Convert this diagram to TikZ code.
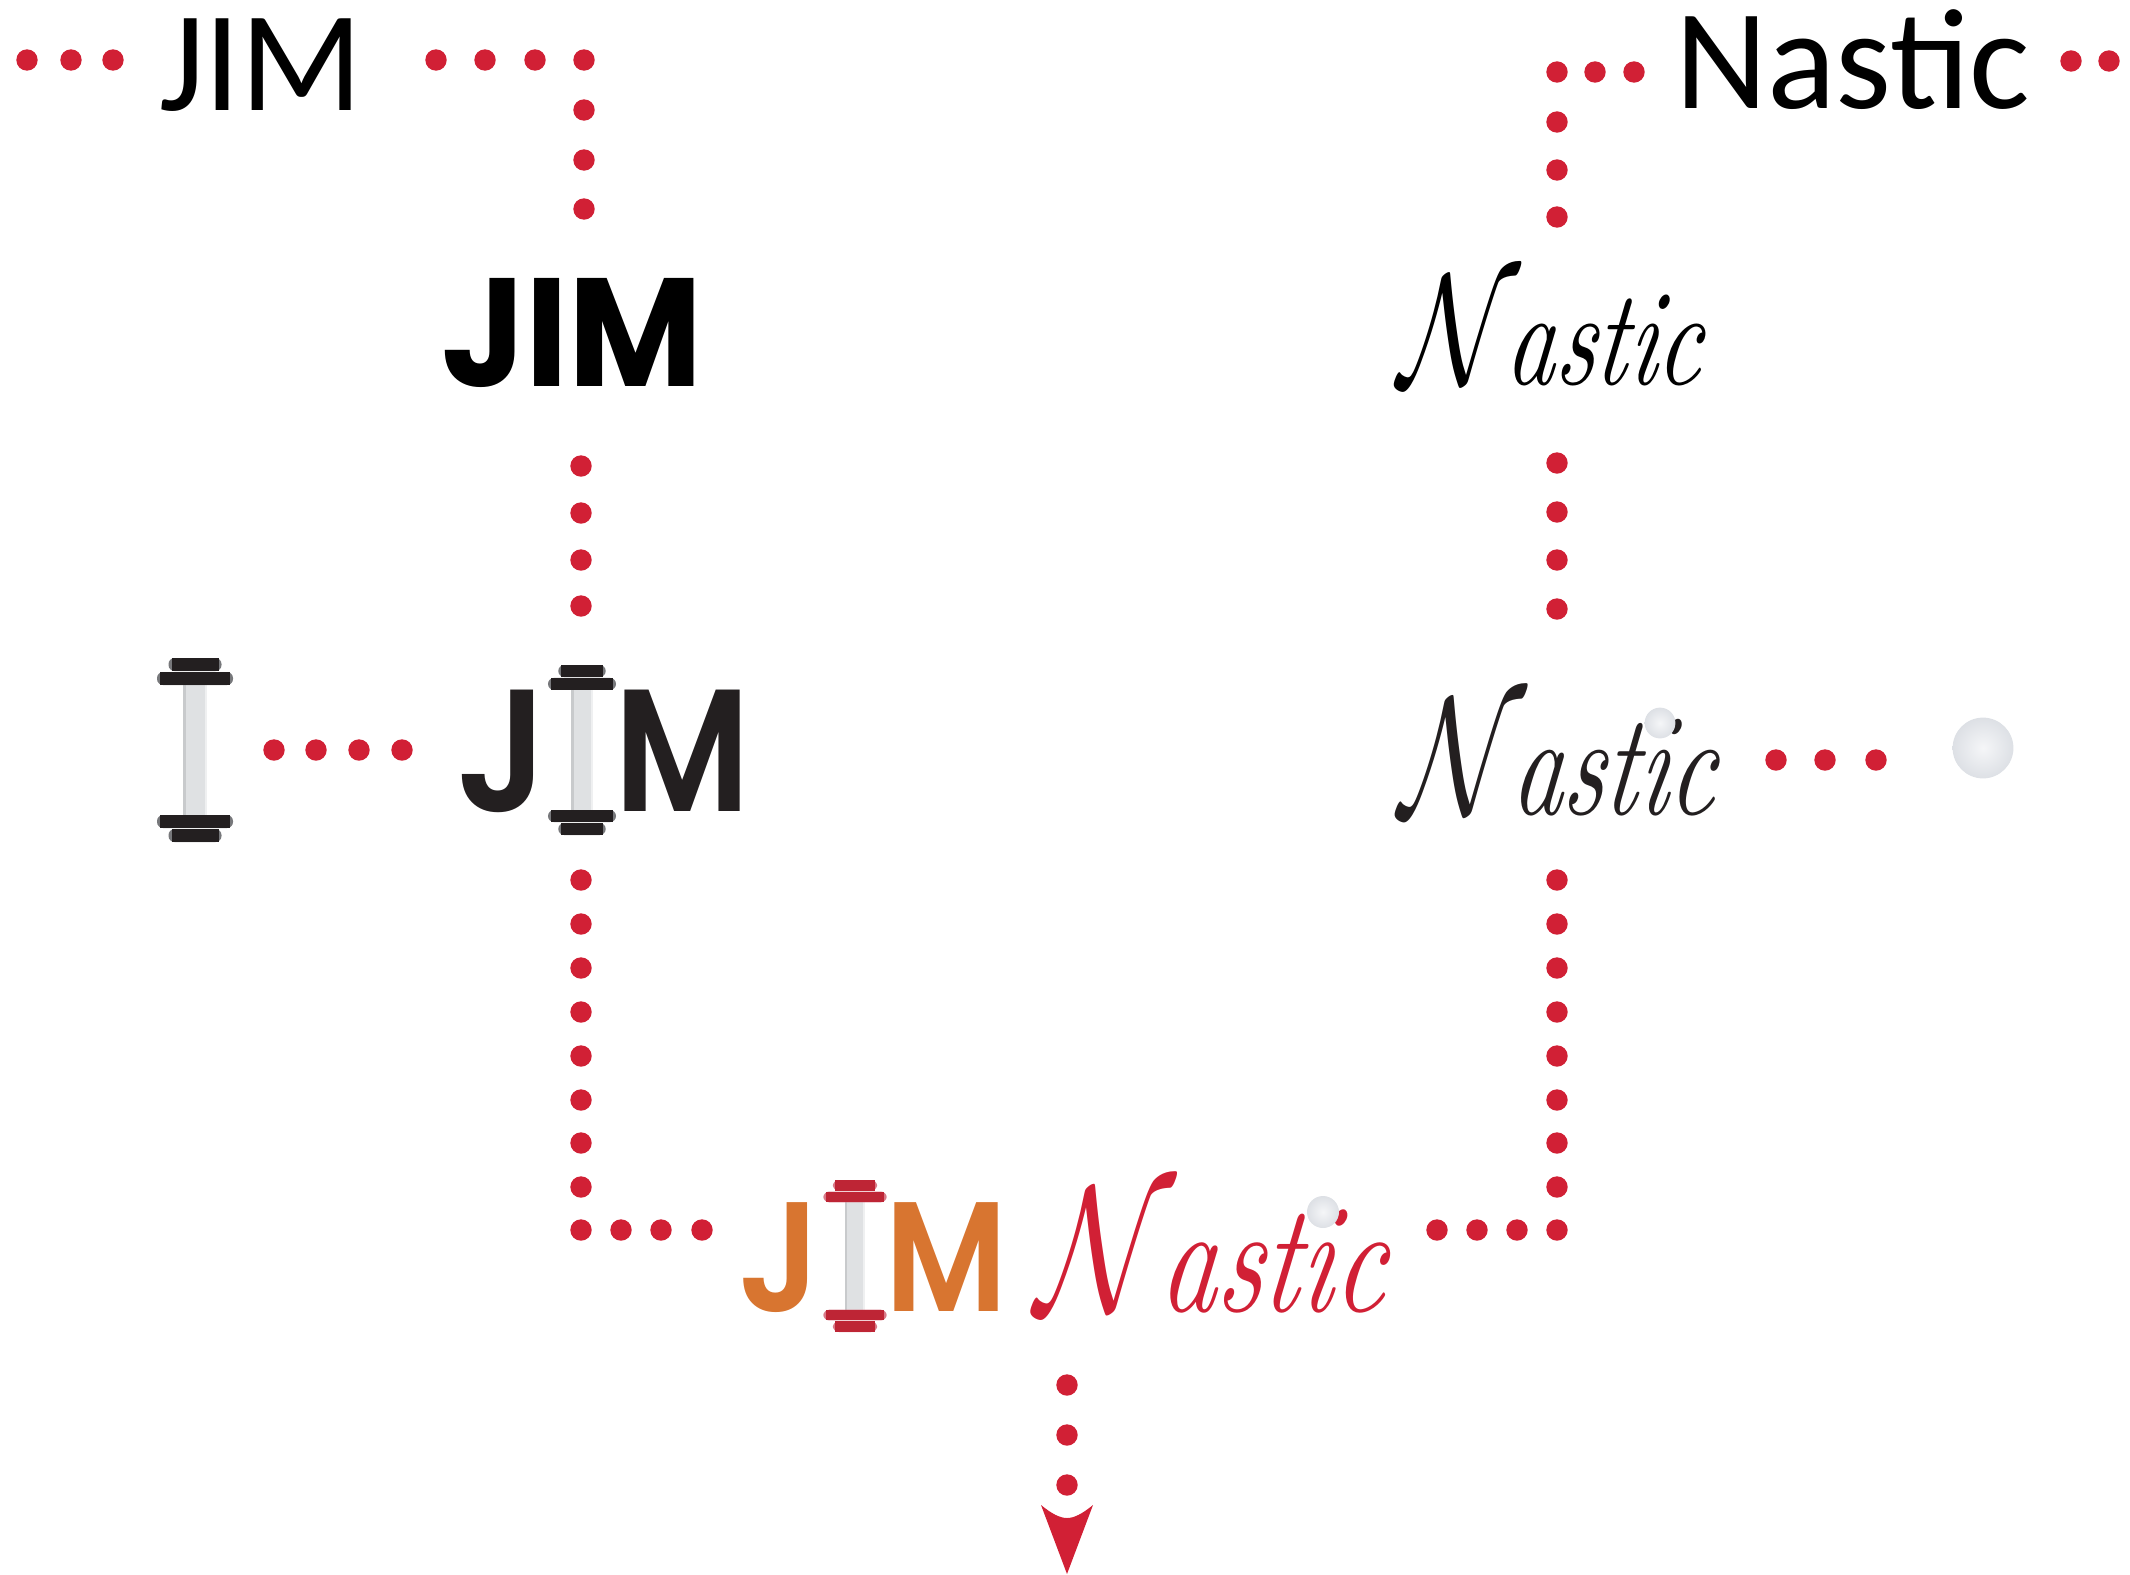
\documentclass[tikz,border=0pt]{standalone}
\usepackage{fontspec}
\setmainfont{Carlito}
\newfontfamily\popfont{Poppins}
\newfontfamily\popsemi{Poppins SemiBold}
\newfontfamily\lmfont{Latin Modern Roman}
\usepackage{graphicx}
\definecolor{dotred}{HTML}{D12035}
\definecolor{inkblack}{HTML}{231F20}
\definecolor{logoorange}{HTML}{D87530}
\definecolor{plategray}{HTML}{77787B}
\definecolor{platered}{HTML}{BE2535}
\definecolor{platepink}{HTML}{D87A88}
\definecolor{barmid}{HTML}{DFE1E3}
\definecolor{barleft}{HTML}{C8CACC}
\definecolor{barright}{HTML}{EFF0F1}
\definecolor{ballrim}{HTML}{DDE0E5}
\definecolor{ballcore}{HTML}{F5F6F8}
\newcommand{\dbell}[6]{%
  \begin{scope}[shift={(#1,#2)},xscale=#3,yscale=#4]
    \fill[barmid] (-12.3,-65) rectangle (12.3,65);
    \fill[barleft] (-12.3,-65) rectangle (-9,65);
    \fill[barright] (10,-65) rectangle (12.3,65);
    \foreach \ya/\yb/\hw in {-92/-79/26.5,-78/-65/38,65/78/38,79/92/26.5}{
      \fill[#6,rounded corners=3pt] (-\hw,\ya) rectangle (\hw,\yb);
      \fill[#5] ({-\hw+3},\ya) rectangle ({\hw-3},\yb);
    }
  \end{scope}}
\newcommand{\nasticword}[2]{\resizebox*{#1}{#2}{\lmfont\itshape\scalebox{1.16}{$\mathcal{N}$}\kern-.02em astic}}
\tikzset{
  reddot/.style={circle,fill=dotred,draw=none,inner sep=0pt,minimum size=10.7pt},
  label/.style={anchor=base west,inner sep=0pt,outer sep=0pt},
  scriptword/.style={anchor=south west,inner sep=0pt,outer sep=0pt,xslant=.12,transform shape},
  topword/.style={label,font=\fontsize{71.5}{72}\selectfont},
  logoA/.style={label,text=inkblack,font=\popsemi\fontsize{87}{87}\selectfont},
  logoB/.style={label,text=logoorange,font=\popsemi\fontsize{78}{78}\selectfont},
}
\begin{document}
\begin{tikzpicture}[x=0.5pt,y=-0.5pt]
\useasboundingbox (0,0) rectangle (2130,1574);
% top words
\node[topword] (topJIM) at (159,110) {JIM};
\node[topword] (topNastic) at (1675,108) {Nastic};
% step 2 words
\node[label,font=\popfont\bfseries\fontsize{77}{77}\selectfont] (boldJIM) at (441,386) {\scalebox{.95}[1]{JIM}};
\node[scriptword] (scriptA) at (1397,386) {\nasticword{151pt}{55pt}};
% left dumbbell + logo
\dbell{195}{750}{1}{1}{inkblack}{plategray}
\node[logoA] (logoJ) at (456,811) {\scalebox{.93}[1]{J}};
\dbell{582}{750}{.895}{.924}{inkblack}{plategray}
\node[logoA] (logoM) at (614,811) {\scalebox{.87}[1]{M}};
% script with ball
\node[scriptword,text=inkblack] (scriptB) at (1398,816) {\nasticword{157pt}{58.5pt}};
\shade[inner color=ballcore,outer color=ballrim] (1660,723) circle (7.7pt);
\shade[inner color=ballcore,outer color=ballrim] (1983,748) circle (15.2pt);
% final logo
\node[logoB] (finalJ) at (738,1311) {\scalebox{.93}[1]{J}};
\dbell{855}{1256}{.835}{.826}{platered}{platepink}
\node[logoB] (finalM) at (885,1311) {\scalebox{.87}[1]{M}};
\node[scriptword,text=dotred] (scriptC) at (1034,1313) {\nasticword{174pt}{62.5pt}};
\shade[inner color=ballcore,outer color=ballrim] (1323,1212) circle (8pt);
% dots
\foreach \n/\px/\py in {
 a1/27/60,a2/71/60,a3/113/60,
 b1/436/60,b2/485/60,b3/535/60,b4/584/60,b5/584/110,b6/584/160,b7/584/209,
 c1/581/466,c2/581/513,c3/581/560,c4/581/606,
 d1/274/750,d2/316/750,d3/359/750,d4/402/750,
 e1/581/880,e2/581/924,e3/581/968,e4/581/1012,e5/581/1056,e6/581/1100,e7/581/1143,e8/581/1187,e9/581/1230,
 e10/621/1230,e11/661/1230,e12/702/1230,
 f1/1557/880,f2/1557/924,f3/1557/968,f4/1557/1012,f5/1557/1056,f6/1557/1100,f7/1557/1143,f8/1557/1187,f9/1557/1230,
 f10/1517/1230,f11/1477/1230,f12/1437/1230,
 g1/1634/72,g2/1595/72,g3/1557/72,g4/1557/122,g5/1557/170,g6/1557/217,
 h1/2071/61,h2/2109/61,
 i1/1557/463,i2/1557/512,i3/1557/560,i4/1557/609,
 j1/1776/760,j2/1825/760,j3/1876/760,
 k1/1067/1385,k2/1067/1435,k3/1067/1485}{
  \node[reddot] (\n) at (\px,\py) {};
}
% arrowhead
\coordinate (arrowtip) at (1067,1574);
\fill[dotred] (1041,1505) .. controls (1052,1514) and (1060,1518) .. (1067,1518)
  .. controls (1074,1518) and (1082,1514) .. (1093,1505) -- (arrowtip) -- cycle;
\end{tikzpicture}
\end{document}
